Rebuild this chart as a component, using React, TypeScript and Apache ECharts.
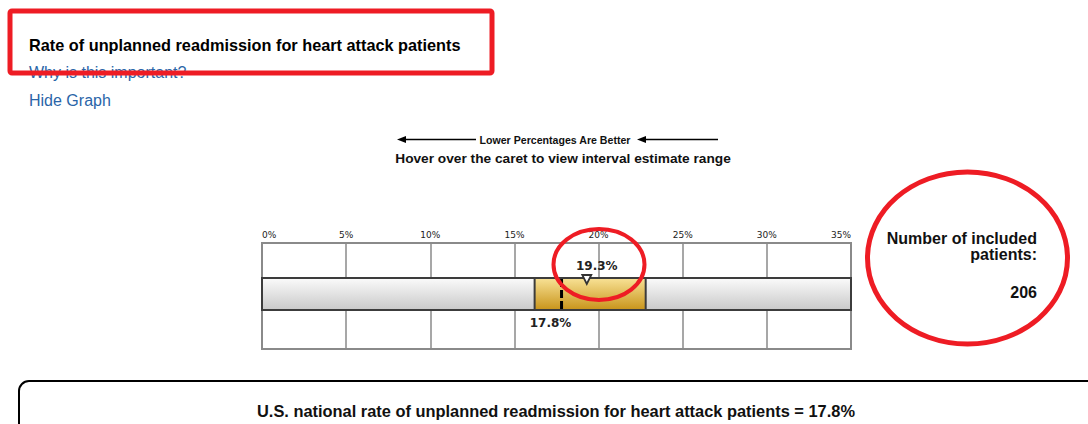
import React, { useEffect, useRef } from "react";
import * as echarts from "echarts";

// ---- data ----
const axisMin = 0;
const axisMax = 35;
const tickStep = 5;
const hospitalRate = 19.3; // caret value
const intervalLow = 16.2; // interval estimate range
const intervalHigh = 22.8;
const nationalRate = 17.8;
const includedPatients = 206;
const titleText = "Rate of unplanned readmission for heart attack patients";
const linkWhy = "Why is this important?";
const linkHide = "Hide Graph";
const betterText = "Lower Percentages Are Better";
const hoverText = "Hover over the caret to view interval estimate range";
const patientsLabel = ["Number of included", "patients:"];
const nationalText = `U.S. national rate of unplanned readmission for heart attack patients = ${nationalRate}%`;

const RED = "#ee1c24";
const SANS = "'Liberation Sans', Arial, sans-serif";
const VERD = "'DejaVu Sans', Verdana, sans-serif";

export default function App() {
  const ref = useRef<HTMLDivElement>(null);
  useEffect(() => {
    if (!ref.current) return;
    const chart = echarts.init(ref.current, undefined, { renderer: "svg" });
    const option: any = {
      animation: false,
      backgroundColor: "#ffffff",
      grid: { left: 262, top: 243, width: 589, height: 106, show: true, borderColor: "#8a8a8a", borderWidth: 2, backgroundColor: "#fff" },
      xAxis: {
        type: "value",
        position: "top",
        min: axisMin,
        max: axisMax,
        interval: tickStep,
        axisLine: { show: false },
        axisTick: { show: false },
        axisLabel: {
          formatter: "{value}%",
          fontSize: 9,
          fontFamily: VERD,
          color: "#222",
          margin: 4,
          alignMinLabel: "left",
          alignMaxLabel: "right",
        },
        splitLine: { show: true, lineStyle: { color: "#8a8a8a", width: 1.5 } },
      },
      yAxis: { type: "value", min: 0, max: 1, show: false },
      series: [
        {
          type: "custom",
          data: [[axisMin, axisMax, intervalLow, intervalHigh, hospitalRate, nationalRate]],
          renderItem: (params: any, api: any) => {
            const cs = params.coordSys;
            const px = (v: number) => api.coord([v, 0])[0];
            const top = cs.y + 35;
            const h = 32;
            const x0 = px(api.value(0));
            const x1 = px(api.value(1));
            const lo = px(api.value(2));
            const hi = px(api.value(3));
            const hx = px(api.value(4));
            const nx = px(api.value(5));
            return {
              type: "group",
              children: [
                {
                  type: "rect",
                  shape: { x: x0, y: top, width: x1 - x0, height: h },
                  style: {
                    fill: new echarts.graphic.LinearGradient(0, 0, 0, 1, [
                      { offset: 0, color: "#fbfbfb" },
                      { offset: 1, color: "#c9c9c9" },
                    ]),
                    stroke: "#3c3c3c",
                    lineWidth: 2,
                  },
                },
                {
                  type: "rect",
                  shape: { x: lo, y: top, width: hi - lo, height: h },
                  style: {
                    fill: new echarts.graphic.LinearGradient(0, 0, 0, 1, [
                      { offset: 0, color: "#f8e296" },
                      { offset: 1, color: "#c8941a" },
                    ]),
                    stroke: "#3c3c3c",
                    lineWidth: 2,
                  },
                },
                {
                  type: "line",
                  shape: { x1: nx, y1: top + 1, x2: nx, y2: top + h - 1 },
                  style: { stroke: "#000", lineWidth: 3, lineDash: [8, 3] },
                },
                {
                  type: "polygon",
                  shape: { points: [[hx - 4.5, top - 3], [hx + 4.5, top - 3], [hx, top + 6]] },
                  style: { fill: "#fff", stroke: "#333", lineWidth: 1.8 },
                },
                {
                  type: "text",
                  style: {
                    text: `${api.value(4)}%`,
                    x: hx + 10,
                    y: top - 12,
                    align: "center",
                    verticalAlign: "middle",
                    font: `bold 12px ${VERD}`,
                    fill: "#222",
                  },
                },
                {
                  type: "text",
                  style: {
                    text: `${api.value(5)}%`,
                    x: nx - 11,
                    y: top + h + 13,
                    align: "center",
                    verticalAlign: "middle",
                    font: `bold 12px ${VERD}`,
                    fill: "#222",
                  },
                },
              ],
            };
          },
        },
      ],
      graphic: [
        { type: "text", x: 29, y: 45, style: { text: titleText, font: `bold 16.3px ${SANS}`, fill: "#000", verticalAlign: "middle" } },
        { type: "text", x: 29, y: 72, style: { text: linkWhy, font: `16px ${SANS}`, fill: "#2a65a8", verticalAlign: "middle" } },
        { type: "rect", shape: { x: 10, y: 11, width: 482, height: 62, r: 2 }, style: { fill: "none", stroke: RED, lineWidth: 5 } },
        { type: "text", x: 29, y: 100, style: { text: linkHide, font: `16px ${SANS}`, fill: "#2a65a8", verticalAlign: "middle" } },
        // arrows
        { type: "line", shape: { x1: 403, y1: 139.5, x2: 476, y2: 139.5 }, style: { stroke: "#000", lineWidth: 1.5 } },
        { type: "polygon", shape: { points: [[397, 139.5], [406, 136], [406, 143]] }, style: { fill: "#000" } },
        { type: "text", x: 555, y: 140, style: { text: betterText, font: `bold 10.6px ${SANS}`, fill: "#111", align: "center", verticalAlign: "middle" } },
        { type: "line", shape: { x1: 643, y1: 139.5, x2: 718, y2: 139.5 }, style: { stroke: "#000", lineWidth: 1.5 } },
        { type: "polygon", shape: { points: [[637, 139.5], [646, 136], [646, 143]] }, style: { fill: "#000" } },
        { type: "text", x: 563, y: 158, style: { text: hoverText, font: `bold 13.7px ${SANS}`, fill: "#111", align: "center", verticalAlign: "middle" } },
        // right info
        { type: "text", x: 1037, y: 238, style: { text: patientsLabel[0], font: `bold 16px ${SANS}`, fill: "#111", align: "right", verticalAlign: "middle" } },
        { type: "text", x: 1037, y: 254, style: { text: patientsLabel[1], font: `bold 16px ${SANS}`, fill: "#111", align: "right", verticalAlign: "middle" } },
        { type: "text", x: 1037, y: 292, style: { text: String(includedPatients), font: `bold 16px ${SANS}`, fill: "#111", align: "right", verticalAlign: "middle" } },
        // red annotations
        { type: "ellipse", shape: { cx: 599, cy: 264.5, rx: 45.5, ry: 35.5 }, style: { fill: "none", stroke: RED, lineWidth: 4 }, z: 100 },
        { type: "ellipse", shape: { cx: 967.5, cy: 258, rx: 100, ry: 86 }, style: { fill: "none", stroke: RED, lineWidth: 5 }, z: 100 },
        // bottom box
        { type: "rect", shape: { x: 19, y: 381, width: 1100, height: 100, r: 10 }, style: { fill: "none", stroke: "#000", lineWidth: 2 } },
        { type: "text", x: 556, y: 411, style: { text: nationalText, font: `bold 16.4px ${SANS}`, fill: "#111", align: "center", verticalAlign: "middle" } },
      ],
    };
    chart.setOption(option);
    return () => chart.dispose();
  }, []);
  return <div ref={ref} style={{ position: "fixed", left: 0, top: 0, width: 1088, height: 424 }} />;
}
